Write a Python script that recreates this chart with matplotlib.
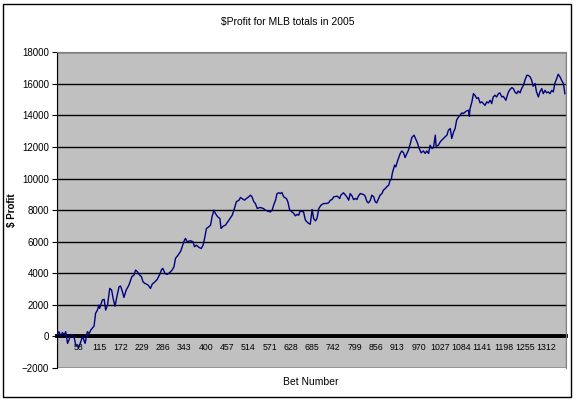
import matplotlib.pyplot as plt
from matplotlib.patches import Rectangle
from matplotlib import font_manager

# values (bet number, cumulative profit in $)
bet_number = [
    1, 3, 7, 12, 16, 21, 25, 30, 39, 47, 52, 61, 70, 77, 83, 88, 92, 101, 105, 110,
    114, 116, 123, 128, 132, 137, 143, 148, 152, 157, 163, 168, 172, 177, 181, 187, 193, 196, 202, 208,
    212, 217, 223, 228, 232, 237, 241, 246, 252, 257, 264, 270, 276, 282, 285, 291, 297, 303, 310, 315,
    319, 326, 333, 337, 343, 346, 350, 359, 366, 370, 375, 382, 388, 393, 397, 402, 408, 413, 417, 422,
    426, 432, 438, 441, 447, 453, 459, 465, 471, 477, 482, 489, 493, 497, 504, 509, 515, 520, 524, 529,
    533, 538, 546, 554, 560, 566, 573, 578, 582, 587, 591, 596, 600, 604, 609, 616, 620, 625, 631, 636,
    640, 645, 649, 653, 662, 667, 671, 676, 680, 685, 689, 694, 698, 703, 709, 716, 723, 729, 734, 738,
    743, 752, 759, 762, 769, 774, 778, 783, 787, 792, 796, 801, 805, 809, 814, 823, 827, 832, 836, 841,
    845, 850, 854, 858, 863, 867, 872, 876, 881, 885, 890, 894, 897, 900, 906, 909, 915, 921, 925, 930,
    934, 939, 943, 948, 952, 958, 963, 967, 972, 977, 983, 988, 992, 997, 1001, 1006, 1010, 1015, 1017, 1023,
    1028, 1032, 1037, 1041, 1046, 1050, 1055, 1059, 1064, 1068, 1072, 1077, 1081, 1086, 1090, 1095, 1099, 1104, 1106, 1108,
    1113, 1117, 1121, 1126, 1130, 1135, 1139, 1144, 1148, 1153, 1157, 1162, 1166, 1170, 1175, 1179, 1184, 1188, 1193, 1197,
    1204, 1208, 1211, 1215, 1220, 1224, 1228, 1233, 1237, 1242, 1246, 1251, 1255, 1260, 1264, 1269, 1273, 1277, 1282, 1286,
    1291, 1295, 1300, 1304, 1309, 1313, 1318, 1322, 1327, 1331, 1335, 1340, 1344, 1349, 1353, 1358, 1362,
]
profit = [
    100, 150, 300, 0, 250, 100, 300, -440, 100, 0, -550, -650, 0, -440, 300, 190, 400, 660, 1460, 1670,
    1990, 1780, 2300, 2350, 1670, 1990, 3040, 2940, 2410, 1920, 2620, 3150, 3190, 2830, 2470, 2940, 3190, 3360, 3780, 3890,
    4200, 4100, 3890, 3780, 3460, 3360, 3320, 3250, 3040, 3320, 3460, 3610, 3890, 4240, 4310, 3990, 3930, 4030, 4200, 4410,
    4940, 5150, 5400, 5680, 6100, 6210, 6000, 6060, 6000, 5680, 5780, 5640, 5570, 5780, 6210, 6840, 6940, 7050, 7580, 8000,
    7790, 7580, 7470, 6840, 6990, 7050, 7260, 7470, 7680, 8110, 8530, 8630, 8800, 8740, 8630, 8740, 8840, 8950, 8840, 8530,
    8420, 8110, 8170, 8110, 8000, 7940, 7890, 8000, 8320, 8630, 9050, 9100, 9050, 9120, 8840, 8740, 8530, 8000, 7890, 7790,
    7640, 7730, 7680, 7950, 7890, 7370, 7260, 7160, 7110, 8040, 7470, 7320, 7470, 8110, 8320, 8420, 8420, 8460, 8630, 8670,
    8840, 8890, 8740, 8950, 9100, 8950, 8840, 8630, 9050, 8890, 8670, 8740, 8670, 8890, 9050, 8990, 8890, 8530, 8460, 8630,
    8950, 8840, 8530, 8460, 8740, 8950, 9050, 9270, 9370, 9480, 9580, 9900, 9940, 10360, 10850, 10740, 11200, 11590, 11750, 11630,
    11330, 11590, 11800, 12220, 12600, 12750, 12470, 12260, 11900, 11630, 11750, 11590, 11750, 11590, 12110, 11900, 11970, 12750, 12050, 12110,
    12320, 12430, 12540, 12640, 12750, 13060, 13170, 12540, 12960, 13170, 13700, 13910, 14010, 14160, 14120, 14220, 14290, 14330, 13950, 14430,
    14860, 15380, 15280, 15070, 15130, 14790, 14860, 14750, 14640, 14860, 14790, 14960, 14750, 15170, 15280, 15170, 15380, 15430, 15170, 15210,
    14960, 15280, 15490, 15640, 15760, 15700, 15490, 15380, 15550, 15430, 15700, 15910, 16230, 16540, 16540, 16440, 16230, 15850, 16020, 15490,
    15170, 15490, 15700, 15380, 15590, 15430, 15490, 15380, 15590, 15490, 16020, 16330, 16610, 16440, 16230, 16020, 15380,
]
x_ticks = list(range(58, 1313, 57))
y_ticks = list(range(-2000, 18001, 2000))

plt.rcParams['font.family'] = ['Liberation Sans', 'DejaVu Sans']

# narrow face for the crowded category labels if it is there
installed = {f.name for f in font_manager.fontManager.ttflist}
narrow = 'Liberation Sans Narrow' in installed
x_family = 'Liberation Sans Narrow' if narrow else 'Liberation Sans'
x_size = 7 if narrow else 6.3

fig = plt.figure(figsize=(5.76, 4.01), dpi=100)
ax = fig.add_axes([0.0985, 0.0823, 0.8835, 0.7873])

ax.set_facecolor('#C0C0C0')
ax.plot(bet_number, profit, color='#000080', linewidth=1.0, zorder=3)

ax.set_xlim(1, 1364)
ax.set_ylim(-2000, 18000)
ax.set_yticks(y_ticks)
ax.set_xticks(x_ticks)
ax.set_xticklabels([str(t) for t in x_ticks])
ax.yaxis.grid(True, color='black', linewidth=1.0)
ax.set_axisbelow(True)

# category axis crosses at zero, labels sit just under it
for side in ['top', 'right']:
    ax.spines[side].set_color('#808080')
ax.spines['left'].set_color('black')
ax.spines['bottom'].set_position(('data', 0))
ax.spines['bottom'].set_linewidth(2.8)
ax.spines['bottom'].set_zorder(2)
ax.add_patch(Rectangle((0, 0), 1, 1, transform=ax.transAxes, fill=False,
                       edgecolor='#808080', linewidth=1.0, zorder=1))

ax.tick_params(axis='x', length=0, pad=5, labelsize=x_size, labelfontfamily=x_family)
ax.tick_params(axis='y', length=3.5, width=0.8, pad=2, labelsize=7, direction='out')

ax.set_ylabel('$ Profit', fontsize=7, fontweight='bold')
ax.yaxis.set_label_coords(-0.078, 0.5)
fig.text(0.54, 0.048, 'Bet Number', ha='center', va='center', fontsize=7.5)
fig.text(0.5, 0.945, '$Profit for MLB totals in 2005', ha='center', va='center', fontsize=7.5)

fig.add_artist(Rectangle((3 / 576, 4 / 401), 568 / 576, 393 / 401, transform=fig.transFigure,
                         fill=False, edgecolor='black', linewidth=1.0))

fig.savefig('out.png', dpi=100)
